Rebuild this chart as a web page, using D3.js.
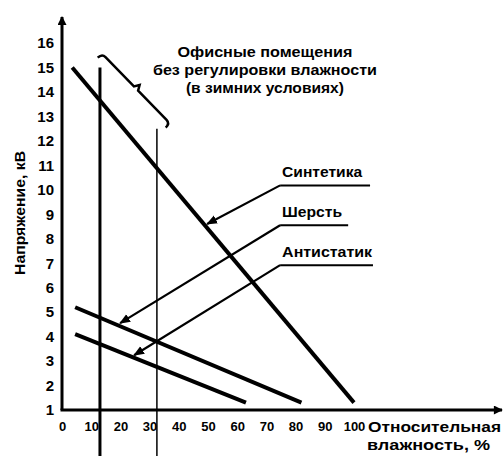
<!DOCTYPE html>
<html>
<head>
<meta charset="utf-8">
<title>Напряжение и влажность</title>
<style>
  body { margin: 0; background: #fff; }
  svg text { font-family: "Liberation Sans", Arial, sans-serif; font-weight: bold; fill: #000; }
</style>
</head>
<body>
<script src="https://d3js.org/d3.v7.min.js"></script>
<script>
    var width = 503,
        height = 456;

    // tick labels
    var xTickValues = [0, 10, 20, 30, 40, 50, 60, 70, 80, 90, 100];
    var yTickValues = [1, 2, 3, 4, 5, 6, 7, 8, 9, 10, 11, 12, 13, 14, 15, 16];

    // series: [humidity %, kV]
    var seriesNames = ["Синтетика", "Шерсть", "Антистатик"];
    var synthetic = [[3.5, 15.0], [100, 1.3]];
    var wool = [[4.5, 5.2], [82, 1.3]];
    var antistatic = [[4.5, 4.1], [63, 1.3]];
    var seriesData = [synthetic, wool, antistatic];

    // label anchors (underline start), underline end and arrow tips, in data units
    var labelAnchors = [[74.7, 10.18], [74.7, 8.55], [74.7, 6.92]];
    var underlineEnds = [105.5, 98, 106.5];
    var arrowTips = [[49.7, 8.6], [19.9, 4.55], [24.7, 3.24]];

    // office humidity range (winter), vertical markers
    var rangeLines = [[13, 15.0, 3], [32.5, 12.5, 1.5]]; // x, top kV, stroke width
    var bracket = [[13.7, 15.57], [37, 12.71]];
    var bracketText = ["Офисные помещения", "без регулировки влажности", "(в зимних условиях)"];

    var x = d3.scaleLinear().domain([0, 100]).range([62, 354]);
    var y = d3.scaleLinear().domain([1, 16]).range([410, 43]);

    var svg = d3.select("body").append("svg")
        .attr("width", width)
        .attr("height", height);

    var defs = svg.append("defs");
    defs.append("marker")
        .attr("id", "arrow")
        .attr("viewBox", "0 0 10 10")
        .attr("refX", 9).attr("refY", 5)
        .attr("markerWidth", 5).attr("markerHeight", 5)
        .attr("markerUnits", "strokeWidth")
        .attr("orient", "auto")
        .append("path").attr("d", "M0,1 L10,5 L0,9 Z").attr("fill", "#000");
    defs.append("marker")
        .attr("id", "axisArrow")
        .attr("viewBox", "0 0 10 10")
        .attr("refX", 9).attr("refY", 5)
        .attr("markerWidth", 4).attr("markerHeight", 3)
        .attr("markerUnits", "strokeWidth")
        .attr("orient", "auto")
        .append("path").attr("d", "M0,0 L10,5 L0,10 Z").attr("fill", "#000");

    // axes labels through d3 axes
    var xAxis = svg.append("g")
        .attr("transform", "translate(0," + y(1) + ")")
        .call(d3.axisBottom(x).tickValues(xTickValues).tickSize(0).tickPadding(12));
    xAxis.select(".domain").remove();
    xAxis.selectAll("text").style("font-size", "13px").style("font-family", null);

    var yAxis = svg.append("g")
        .attr("transform", "translate(" + x(0) + ",0)")
        .call(d3.axisLeft(y).tickValues(yTickValues).tickSize(0).tickPadding(8));
    yAxis.select(".domain").remove();
    yAxis.selectAll("text").style("font-size", "15px").style("font-family", null);

    // axis lines with arrows
    svg.append("line")
        .attr("x1", x(0)).attr("y1", y(1))
        .attr("x2", x(0)).attr("y2", 17)
        .attr("stroke", "#000").attr("stroke-width", 3)
        .attr("marker-end", "url(#axisArrow)");
    svg.append("line")
        .attr("x1", x(0) - 1.5).attr("y1", y(1))
        .attr("x2", 502).attr("y2", y(1))
        .attr("stroke", "#000").attr("stroke-width", 3)
        .attr("marker-end", "url(#axisArrow)");

    // axis titles
    svg.append("text")
        .attr("transform", "translate(25," + 213 + ") rotate(-90)")
        .attr("text-anchor", "middle")
        .attr("textLength", 124)
        .attr("lengthAdjust", "spacingAndGlyphs")
        .style("font-size", "15px")
        .text("Напряжение, кВ");
    svg.append("text")
        .attr("x", 368).attr("y", 432)
        .attr("textLength", 133)
        .attr("lengthAdjust", "spacingAndGlyphs")
        .style("font-size", "14px")
        .text("Относительная");
    svg.append("text")
        .attr("x", 367).attr("y", 450)
        .attr("textLength", 123)
        .attr("lengthAdjust", "spacingAndGlyphs")
        .style("font-size", "14px")
        .text("влажность, %");

    // vertical range lines
    svg.selectAll(".range")
        .data(rangeLines)
        .enter().append("line")
        .attr("class", "range")
        .attr("x1", function (d) { return x(d[0]); })
        .attr("x2", function (d) { return x(d[0]); })
        .attr("y1", function (d) { return y(d[1]); })
        .attr("y2", y(-1))
        .attr("stroke", "#000")
        .attr("stroke-width", function (d) { return d[2]; });

    // series lines
    var line = d3.line()
        .x(function (d) { return x(d[0]); })
        .y(function (d) { return y(d[1]); });
    svg.selectAll(".series")
        .data(seriesData)
        .enter().append("path")
        .attr("class", "series")
        .attr("d", line)
        .attr("fill", "none")
        .attr("stroke", "#000")
        .attr("stroke-width", 4);

    // labels with leaders
    var labelWidths = [80, 60, 90];
    seriesNames.forEach(function (name, i) {
        var a = labelAnchors[i];
        svg.append("line")
            .attr("x1", x(a[0])).attr("y1", y(a[1]))
            .attr("x2", x(underlineEnds[i])).attr("y2", y(a[1]))
            .attr("stroke", "#000").attr("stroke-width", 2);
        svg.append("line")
            .attr("x1", x(a[0])).attr("y1", y(a[1]))
            .attr("x2", x(arrowTips[i][0])).attr("y2", y(arrowTips[i][1]))
            .attr("stroke", "#000").attr("stroke-width", 2.2)
            .attr("marker-end", "url(#arrow)");
        svg.append("text")
            .attr("x", x(a[0]) + 2).attr("y", y(a[1]) - 8)
            .attr("textLength", labelWidths[i])
            .attr("lengthAdjust", "spacingAndGlyphs")
            .style("font-size", "14px")
            .text(name);
    });

    // curly bracket
    var p0 = [x(bracket[0][0]), y(bracket[0][1])],
        p1 = [x(bracket[1][0]), y(bracket[1][1])];
    var dx = p1[0] - p0[0], dy = p1[1] - p0[1], len = Math.sqrt(dx * dx + dy * dy);
    var u = [dx / len, dy / len], nDown = [-u[1], u[0]];
    function pt(base, along, side) {
        return [base[0] + u[0] * along + nDown[0] * side, base[1] + u[1] * along + nDown[1] * side];
    }
    var mid = [(p0[0] + p1[0]) / 2, (p0[1] + p1[1]) / 2];
    var bp = d3.path();
    var s = pt(p0, 0, 6); bp.moveTo(s[0], s[1]);
    var c = pt(p0, 0, 0), e = pt(p0, 5, 0); bp.quadraticCurveTo(c[0], c[1], e[0], e[1]);
    e = pt(mid, -3, 0); bp.lineTo(e[0], e[1]);
    e = pt(mid, 0, -5); bp.lineTo(e[0], e[1]);
    e = pt(mid, 3, 0); bp.lineTo(e[0], e[1]);
    e = pt(p1, -5, 0); bp.lineTo(e[0], e[1]);
    c = pt(p1, 0, 0); e = pt(p1, 0, 6); bp.quadraticCurveTo(c[0], c[1], e[0], e[1]);
    svg.append("path")
        .attr("d", bp.toString())
        .attr("fill", "none")
        .attr("stroke", "#000")
        .attr("stroke-width", 2.5);

    var bracketWidths = [175, 224, 158];
    svg.selectAll(".btext")
        .data(bracketText)
        .enter().append("text")
        .attr("class", "btext")
        .attr("x", x(69.5))
        .attr("y", function (d, i) { return 57 + i * 18; })
        .attr("text-anchor", "middle")
        .attr("textLength", function (d, i) { return bracketWidths[i]; })
        .attr("lengthAdjust", "spacingAndGlyphs")
        .style("font-size", "14px")
        .text(function (d) { return d; });
</script>
</body>
</html>
